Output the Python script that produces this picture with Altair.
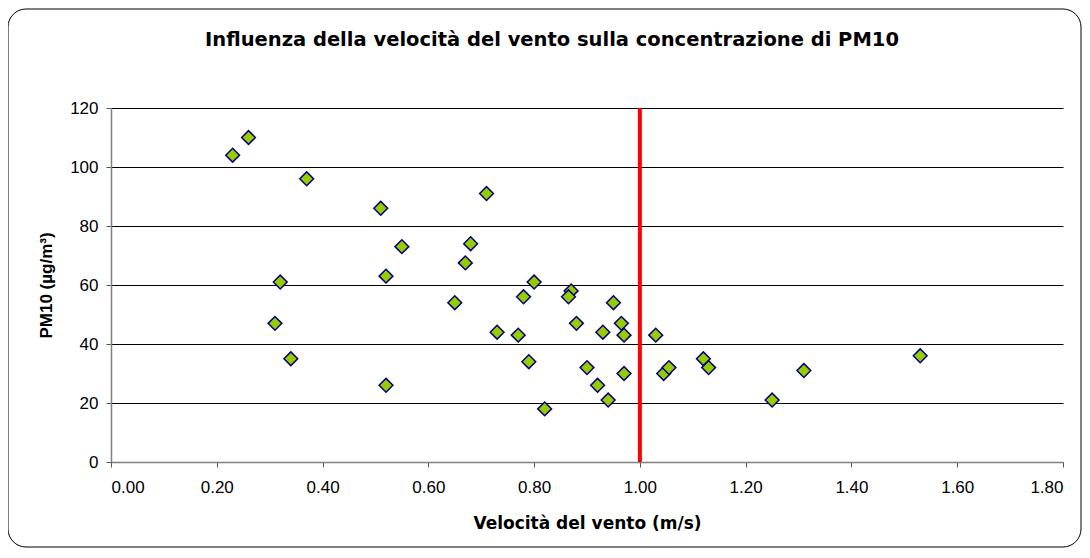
import altair as alt
import pandas as pd

wind = [0.23, 0.26, 0.37, 0.32, 0.31, 0.34, 0.51, 0.52, 0.52, 0.55,
        0.65, 0.67, 0.68, 0.71, 0.73, 0.77, 0.78, 0.79, 0.80, 0.82,
        0.87, 0.865, 0.88, 0.90, 0.92, 0.93, 0.94, 0.95, 0.965, 0.97,
        0.97, 1.03, 1.045, 1.055, 1.12, 1.13, 1.25, 1.31, 1.53]
pm10 = [104, 110, 96, 61, 47, 35, 86, 63, 26, 73,
        54, 67.5, 74, 91, 44, 43, 56, 34, 61, 18,
        58, 56, 47, 32, 26, 44, 21, 54, 47, 43,
        30, 43, 30, 32, 35, 32, 21, 31, 36]
threshold = [1.0]
title_text = ["Influenza della velocità del vento sulla concentrazione di PM10"]

df = pd.DataFrame({"v": wind, "pm": pm10})
thr = pd.DataFrame({"v": threshold})
tdf = pd.DataFrame({"t": title_text})

FONT = "Liberation Sans"
WIDE = "DejaVu Sans"

xscale = alt.Scale(domain=[0, 1.8], nice=False, zero=False)
yscale = alt.Scale(domain=[0, 120], nice=False)

frame = alt.Chart(pd.DataFrame({"a": [0]})).mark_rect(
    fill=None, stroke="black", strokeWidth=1, cornerRadius=18, clip=False
).encode(
    x=alt.value(-103), x2=alt.value(970), y=alt.value(-99), y2=alt.value(439)
)

title = alt.Chart(tdf).mark_text(
    font=WIDE, fontSize=19.5, fontWeight="bold", color="black",
    align="center", baseline="alphabetic"
).encode(text="t:N", x=alt.value(441), y=alt.value(-62))

points = alt.Chart(df).mark_point(
    shape="diamond", filled=True, fill="#99CC00", stroke="#000080",
    strokeWidth=1.5, size=190, opacity=1
).encode(
    x=alt.X("v:Q", scale=xscale, title="Velocità del vento (m/s)",
            axis=alt.Axis(values=[0, 0.2, 0.4, 0.6, 0.8, 1.0, 1.2, 1.4, 1.6, 1.8],
                          format=".2f", grid=False, titleFont=WIDE,
                          titleFontSize=17)),
    y=alt.Y("pm:Q", scale=yscale, title="PM10 (µg/m³)",
            axis=alt.Axis(values=[0, 20, 40, 60, 80, 100, 120], grid=True)),
)

rule = alt.Chart(thr).mark_rule(color="#FF0000", strokeWidth=4).encode(
    x=alt.X("v:Q", scale=xscale),
    y=alt.value(0), y2=alt.value(354),
)

chart = alt.layer(frame, title, rule, points).properties(
    width=952, height=354,
    autosize=alt.AutoSizeParams(type="none"),
    padding={"left": 103, "top": 100, "right": 19, "bottom": 86},
).configure_view(stroke=None).configure_axis(
    labelFont=FONT, labelFontSize=17, labelColor="black",
    titleFont=FONT, titleFontSize=17, titleFontWeight="bold", titleColor="black",
    domainColor="#808080", domainWidth=1.5, tickColor="#555555", tickSize=5,
    gridColor="black", gridWidth=1, gridOpacity=1,
).configure_axisX(
    labelPadding=12, titlePadding=20
).configure_axisY(
    labelPadding=8, titlePadding=14
)

chart.save("out.html", embed_options={"renderer": "svg", "actions": False})
